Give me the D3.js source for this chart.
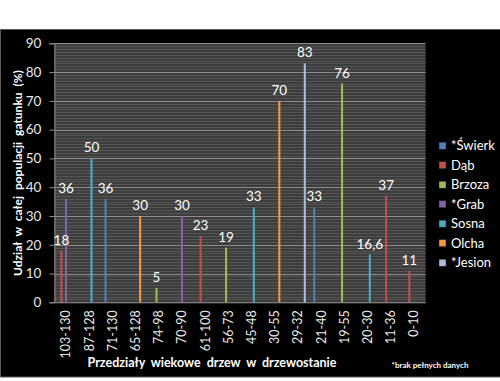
<!DOCTYPE html>
<html><head><meta charset="utf-8">
<script src="https://cdn.jsdelivr.net/npm/d3@7"></script>
<style>
html,body{margin:0;padding:0;background:#fff;}
svg{display:block;font-family:Lato,"Open Sans",sans-serif;}
</style></head>
<body>
<svg id="c" width="500" height="381"></svg>
<script>
const categories = ["103-130","87-128","71-130","65-128","74-98","70-90","61-100","56-73","45-48","30-55","29-32","21-40","19-55","20-30","11-36","0-10"];
const seriesNames = ["*Świerk","Dąb","Brzoza","*Grab","Sosna","Olcha","*Jesion"];
const seriesColors = ["#4f81bd","#c0504d","#9bbb59","#8064a2","#4bacc6","#f79646","#a9bde0"];
const swierk = [null,null,36,null,null,null,null,null,null,null,null,33,null,null,null,null];
const dab    = [18,null,null,null,null,null,23,null,null,null,null,null,null,null,37,11];
const brzoza = [null,null,null,null,5,null,null,19,null,null,null,null,76,null,null,null];
const grab   = [36,null,null,null,null,30,null,null,null,null,null,null,null,null,null,null];
const sosna  = [null,50,null,null,null,null,null,null,33,null,null,null,null,16.6,null,null];
const olcha  = [null,null,null,30,null,null,null,null,null,70,null,null,null,null,null,null];
const jesion = [null,null,null,null,null,null,null,null,null,null,83,null,null,null,null,null];
const seriesValues = [swierk,dab,brzoza,grab,sosna,olcha,jesion];
const yTicks = [0,10,20,30,40,50,60,70,80,90];
const yTitle = "Udział w całej populacji gatunku (%)";
const xTitle = "Przedziały wiekowe drzew w drzewostanie";
const footnote = "*brak pełnych danych";

const svg = d3.select("#c");
const L = 54.4, R = 425.5, T = 43.3, B = 302.3;

// frame
svg.append("rect").attr("x",0.5).attr("y",29.5).attr("width",520).attr("height",347.5)
  .attr("fill","#000").attr("stroke","#5a5a5a").attr("stroke-width",1);

const x0 = d3.scaleBand().domain(categories).range([L,R]).paddingInner(0.3).paddingOuter(0.15);
const x1 = d3.scaleBand().domain(d3.range(seriesNames.length)).range([0,x0.bandwidth()]).padding(0.1);
const y = d3.scaleLinear().domain([0,90]).range([B,T]);

// plot background
svg.append("rect").attr("x",L).attr("y",T).attr("width",R-L).attr("height",B-T).attr("fill","#3d3d3d");
// fine stripes
svg.append("g").selectAll("line").data(d3.range(0,90,1)).join("line")
  .attr("x1",L).attr("x2",R).attr("y1",d=>Math.round(y(d))+0.5).attr("y2",d=>Math.round(y(d))+0.5)
  .attr("stroke","#555").attr("stroke-width",1);
// major gridlines
svg.append("g").selectAll("line").data(yTicks.slice(1)).join("line")
  .attr("x1",L).attr("x2",R).attr("y1",d=>Math.round(y(d))+0.5).attr("y2",d=>Math.round(y(d))+0.5)
  .attr("stroke","#8c8c8c").attr("stroke-width",1.2);

// y axis
const ya = svg.append("g").attr("transform",`translate(${L},0)`)
  .call(d3.axisLeft(y).tickValues(yTicks).tickSize(5).tickPadding(8));
ya.select(".domain").attr("stroke","#8c8c8c");
ya.selectAll(".tick line").attr("stroke","#8c8c8c");
ya.selectAll("text").attr("fill","#e8e8e8").attr("font-size",13.5).attr("font-family","Lato");

// x axis
const xa = svg.append("g").attr("transform",`translate(0,${B})`)
  .call(d3.axisBottom(x0).tickSize(0).tickPadding(8));
xa.select(".domain").attr("stroke","#8c8c8c");
xa.selectAll("text").attr("fill","#e8e8e8").attr("font-size",12.5).attr("font-family","Lato")
  .attr("transform","rotate(-90)").attr("text-anchor","end").attr("dy","0.35em").attr("x",-8).attr("y",0);

// bars
const bars = [];
seriesValues.forEach((arr,s)=>arr.forEach((v,i)=>{ if(v!=null) bars.push({s,i,v}); }));
const bw = x1.bandwidth();
svg.append("g").selectAll("rect").data(bars).join("rect")
  .attr("x",d=>x0(categories[d.i])+x1(d.s))
  .attr("width",bw)
  .attr("y",d=>y(d.v)).attr("height",d=>B-y(d.v))
  .attr("fill",d=>seriesColors[d.s]);
svg.append("g").selectAll("text").data(bars).join("text")
  .attr("x",d=>x0(categories[d.i])+x1(d.s)+bw/2)
  .attr("y",d=>y(d.v)-6)
  .attr("text-anchor","middle").attr("fill","#fff").attr("font-size",13.5).attr("font-family","Lato")
  .text(d=>String(d.v).replace(".",","));

// legend
const lg = svg.append("g");
seriesNames.forEach((n,s)=>{
  const yy = 145.7 + s*19.5;
  lg.append("rect").attr("x",439).attr("y",yy-3.5).attr("width",7).attr("height",7)
    .attr("fill",seriesColors[s]).attr("stroke","#222").attr("stroke-width",0.5);
  lg.append("text").attr("x",451).attr("y",yy).attr("dy","0.35em").attr("fill","#fff")
    .attr("font-size",13).attr("font-family","Lato").text(n);
});

// titles
svg.append("text").attr("transform","translate(22,173) rotate(-90)").attr("text-anchor","middle")
  .attr("fill","#fff").attr("font-size",12).attr("font-weight","bold").attr("font-family","Lato")
  .attr("word-spacing",3).text(yTitle);
svg.append("text").attr("x",212).attr("y",367).attr("text-anchor","middle")
  .attr("fill","#fff").attr("font-size",12.5).attr("font-weight","bold").attr("font-family","Lato")
  .attr("word-spacing",3).text(xTitle);
svg.append("text").attr("x",430).attr("y",368).attr("text-anchor","middle")
  .attr("fill","#fff").attr("font-size",8).attr("font-weight","bold").attr("font-family","Lato")
  .text(footnote);
</script>
</body></html>
